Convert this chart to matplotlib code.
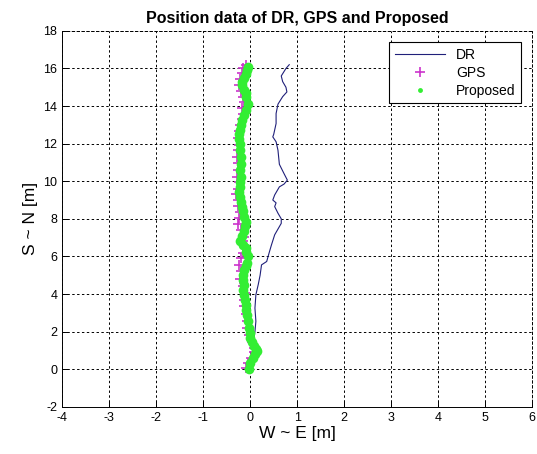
import matplotlib.pyplot as plt

plt.rcParams['font.family'] = ['Liberation Sans', 'DejaVu Sans']
plt.rcParams['axes.unicode_minus'] = False

# DR trajectory
dr_x = [0.00, 0.03, 0.07, 0.07, 0.10, 0.12, 0.10, 0.12, 0.17, 0.21, 0.24, 0.35,
        0.41, 0.45, 0.52, 0.66, 0.66, 0.59, 0.52, 0.55, 0.48, 0.52, 0.62, 0.72,
        0.79, 0.72, 0.62, 0.59, 0.55, 0.48, 0.50, 0.55, 0.55, 0.59, 0.69, 0.78,
        0.76, 0.69, 0.66, 0.76, 0.83]
dr_y = [0.00, 0.25, 0.80, 1.50, 2.00, 2.55, 3.25, 3.96, 4.50, 5.00, 5.55, 5.73,
        6.26, 6.60, 7.15, 7.76, 8.00, 8.30, 8.65, 8.85, 9.00, 9.27, 9.70, 9.85,
        10.06, 10.40, 10.90, 11.65, 12.10, 12.36, 12.50, 13.07, 13.60, 14.10, 14.50, 14.75,
        15.00, 15.30, 15.60, 16.00, 16.20]

# GPS fixes
gps_x = [-0.08, -0.04, 0.02, 0.07, 0.09, 0.03, -0.02, -0.06, -0.07, -0.09, -0.13, -0.14,
         -0.12, -0.16, -0.21, -0.20, -0.23, -0.19, -0.15, -0.12, -0.16, -0.13, -0.20, -0.26,
         -0.23, -0.22, -0.27, -0.25, -0.30, -0.26, -0.24, -0.29, -0.27, -0.25, -0.28, -0.25,
         -0.24, -0.27, -0.23, -0.21, -0.17, -0.15, -0.18, -0.13, -0.15, -0.19, -0.24, -0.22,
         -0.17, -0.15, -0.10]
gps_y = [0.05, 0.35, 0.62, 0.90, 1.15, 1.45, 1.80, 2.20, 2.55, 2.95, 3.35, 3.70,
         4.05, 4.45, 4.80, 5.20, 5.55, 5.90, 6.20, 6.50, 6.80, 7.05, 7.40, 7.70,
         8.05, 8.35, 8.70, 9.00, 9.30, 9.60, 9.95, 10.25, 10.60, 10.95, 11.30, 11.65,
         11.95, 12.30, 12.65, 13.00, 13.30, 13.60, 13.90, 14.20, 14.50, 14.80, 15.10, 15.45,
         15.75, 16.00, 16.20]

# Proposed (fused) estimate
prop_x = [-0.03, 0.00, 0.05, 0.10, 0.14, 0.12, 0.07, 0.03, 0.00, 0.00, -0.02, -0.05,
          -0.07, -0.08, -0.10, -0.12, -0.14, -0.15, -0.14, -0.15, -0.16, -0.14, -0.10, -0.07,
          -0.05, -0.08, -0.10, -0.15, -0.21, -0.17, -0.14, -0.12, -0.10, -0.13, -0.15, -0.17,
          -0.20, -0.22, -0.24, -0.22, -0.21, -0.20, -0.21, -0.20, -0.19, -0.21, -0.21, -0.23,
          -0.24, -0.22, -0.19, -0.17, -0.14, -0.10, -0.05, -0.08, -0.10, -0.14, -0.17, -0.17,
          -0.13, -0.10, -0.06, -0.05]
prop_y = [0.00, 0.33, 0.60, 0.80, 0.95, 1.10, 1.22, 1.45, 1.66, 1.95, 2.19, 2.55,
          2.90, 3.15, 3.43, 3.70, 3.95, 4.23, 4.50, 4.76, 5.02, 5.29, 5.50, 5.64,
          6.00, 6.25, 6.44, 6.60, 6.80, 7.06, 7.35, 7.60, 7.85, 8.12, 8.40, 8.65,
          8.90, 9.18, 9.45, 9.70, 9.95, 10.24, 10.60, 10.94, 11.30, 11.65, 12.00, 12.27,
          12.50, 12.70, 13.00, 13.25, 13.50, 13.80, 14.13, 14.50, 14.70, 14.84, 15.10, 15.30,
          15.50, 15.70, 15.90, 16.07]

x_ticks = list(range(-4, 7))
y_ticks = list(range(-2, 19, 2))

fig = plt.figure(figsize=(5.37, 4.54), dpi=100)
ax = fig.add_axes([0.116, 0.104, 0.875, 0.828])

ax.plot(dr_x, dr_y, color='#20207a', lw=0.8, label='DR', zorder=3)
ax.plot(gps_x, gps_y, linestyle='none', marker='+', color='#cc33cc', ms=7, mew=1.2,
        label='GPS', zorder=4)
ax.plot(prop_x, prop_y, linestyle='none', marker='o', color='#33ee33', ms=7, mew=0,
        label='Proposed', zorder=5)

ax.set_xlim(-4, 6)
ax.set_ylim(-2, 18)
ax.set_xticks(x_ticks)
ax.set_yticks(y_ticks)
ax.tick_params(direction='in', labelsize=9, length=4, width=0.7, top=False, right=False)
ax.grid(True, color='black', linestyle=(0, (2.5, 2.5)), linewidth=0.7)
for side in ['top', 'right']:
    ax.spines[side].set_linestyle((0, (2.5, 2.5)))
    ax.spines[side].set_linewidth(0.7)
for side in ['left', 'bottom']:
    ax.spines[side].set_linewidth(0.7)

ax.set_title('Position data of DR, GPS and Proposed', fontsize=11.5, fontweight='bold', pad=6)
ax.set_xlabel('W ~ E [m]', fontsize=12.5, labelpad=2)
ax.set_ylabel('S ~ N [m]', fontsize=12.5, labelpad=4)

leg = ax.legend(loc='upper right', fontsize=10, fancybox=False, framealpha=1,
                edgecolor='black', handlelength=3.6,
                borderaxespad=0.8, labelspacing=0.3)
leg.get_frame().set_linewidth(0.8)
# legend: normal-size cross, small dot
leg.legend_handles[1].set_markersize(7)
leg.legend_handles[2].set_markersize(3.5)

fig.savefig('out.png', dpi=100)
